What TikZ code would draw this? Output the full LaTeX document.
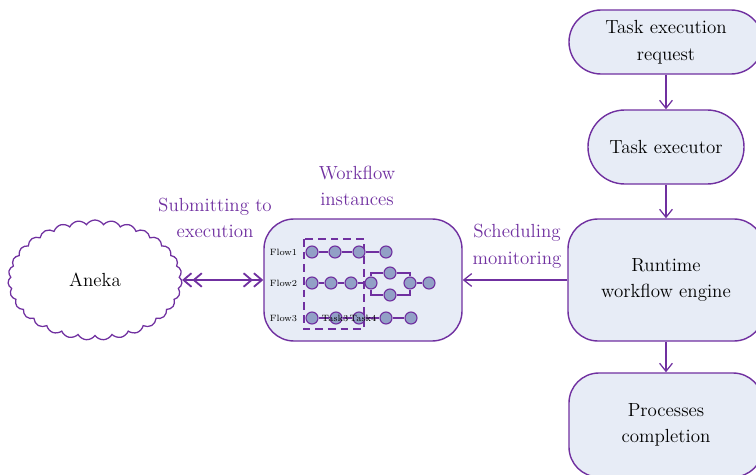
\documentclass[tikz,border=0pt]{standalone}
\usetikzlibrary{positioning,shapes.symbols,arrows.meta}
\definecolor{wfpurple}{RGB}{112,48,160}
\definecolor{boxfill}{RGB}{231,236,246}
\definecolor{dotfill}{RGB}{146,160,198}
\tikzset{
  stadium/.style={draw=wfpurple, line width=1pt, fill=boxfill, align=center, inner sep=0pt,
    font=\fontsize{13.5}{19}\selectfont},
  flowline/.style={draw=wfpurple, line width=0.9pt, -{Straight Barb[length=2mm,width=3.2mm]}},
  twoway/.style={draw=wfpurple, line width=1.3pt,
    {Straight Barb[length=2mm,width=3.4mm]Straight Barb[length=2mm,width=3.4mm]}-{Straight Barb[length=2mm,width=3.4mm]Straight Barb[length=2mm,width=3.4mm]}},
  task/.style={circle, draw=wfpurple, fill=dotfill, line width=0.8pt, minimum size=0.3cm, inner sep=0pt},
  link/.style={draw=wfpurple, line width=0.8pt},
  purplelabel/.style={text=wfpurple, align=center, font=\fontsize{13.5}{19}\selectfont},
  flowlbl/.style={inner sep=0pt, font=\fontsize{6.5}{8}\selectfont}
}
\begin{document}
\begin{tikzpicture}
\useasboundingbox (0,0) rectangle (18.9,11.85);

% Right column
\node[stadium, minimum width=4.85cm, minimum height=1.6cm, rounded corners=0.8cm] (request) at (16.65,10.8) {Task execution\\request};
\node[stadium, minimum width=3.9cm, minimum height=1.85cm, rounded corners=0.92cm] (executor) at (16.65,8.175) {Task executor};
\node[stadium, minimum width=4.9cm, minimum height=3.05cm, rounded corners=0.75cm] (engine) at (16.65,4.85) {Runtime\\workflow engine};
\node[stadium, minimum width=4.85cm, minimum height=2.6cm, rounded corners=0.75cm] (completion) at (16.65,1.225) {Processes\\completion};

\draw[flowline] (request) -- (executor);
\draw[flowline] (executor) -- (engine);
\draw[flowline] (engine) -- (completion);

% Workflow instances
\node[stadium, minimum width=4.95cm, minimum height=3.05cm, rounded corners=0.75cm] (instances) at (9.075,4.85) {};
\node[purplelabel] (wflabel) at (8.925,7.2) {Workflow\\instances};

% Aneka cloud
\node[cloud, draw=wfpurple, fill=white, line width=0.9pt, cloud puffs=31, cloud puff arc=115, aspect=1.45,
  minimum width=4.35cm, minimum height=3cm, inner sep=0pt, font=\fontsize{13.5}{17}\selectfont] (aneka) at (2.375,4.85) {Aneka};

% Connectors between columns
\draw[twoway] (aneka) -- (instances);
\node[purplelabel] (submitlabel) at (5.375,6.4) {Submitting to\\execution};
\draw[flowline] (engine) -- (instances);
\node[purplelabel] (schedlabel) at (12.925,5.7) {Scheduling\\monitoring};

% Flows inside the box
\draw[link, dash pattern=on 5.5pt off 3.5pt] (7.6,5.875) rectangle (9.1,3.625);
\node[flowlbl, anchor=west] (flow1) at (6.74,5.55) {Flow1};
\node[flowlbl, anchor=west] (flow2) at (6.74,4.775) {Flow2};
\node[flowlbl, anchor=west] (flow3) at (6.74,3.9) {Flow3};

\foreach \n/\x in {1/7.8,2/8.375,3/8.975,4/9.65}
  \node[task] (a\n) at (\x,5.55) {};
\draw[link] (a1) -- (a2) -- (a3) -- (a4);

\foreach \n/\x in {1/7.8,2/8.275,3/8.775,4/9.275}
  \node[task] (b\n) at (\x,4.775) {};
\node[task] (b5) at (9.75,5.025) {};
\node[task] (b6) at (9.75,4.475) {};
\node[task] (b7) at (10.25,4.775) {};
\node[task] (b8) at (10.725,4.775) {};
\draw[link] (b1) -- (b2) -- (b3) -- (b4);
\draw[link] (b4) |- (b5) -| (b7);
\draw[link] (b4) |- (b6) -| (b7);
\draw[link] (b7) -- (b8);

\foreach \n/\x in {1/7.8,2/8.4,3/8.975,4/9.65,5/10.275}
  \node[task] (c\n) at (\x,3.9) {};
\draw[link] (c1) -- (c2) -- (c3) -- (c4) -- (c5);
\node[flowlbl] (task3) at (8.375,3.9) {Task3};
\node[flowlbl] (task4) at (9.075,3.9) {Task4};
\end{tikzpicture}
\end{document}
